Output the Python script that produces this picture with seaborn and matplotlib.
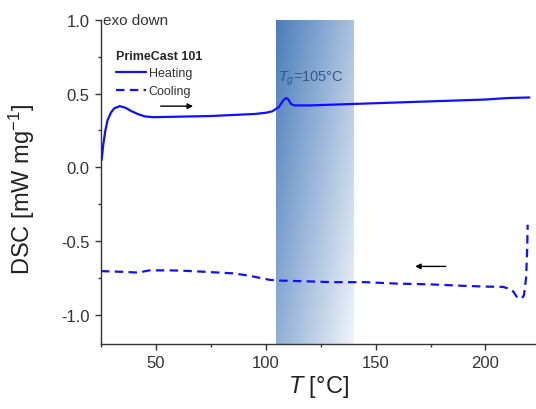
import numpy as np
import pandas as pd
import matplotlib
matplotlib.use("Agg")
import matplotlib.pyplot as plt
import seaborn as sns
from matplotlib.colors import LinearSegmentedColormap
from matplotlib.ticker import MultipleLocator

# DSC heating scan (temperature in degC, heat flow in mW/mg)
heat_T = [25.3, 26.0, 27.0, 28.0, 29.5, 31.0, 33.5, 36.0, 39.0, 42.0, 45.0, 49.0,
          55.0, 65.0, 75.0, 85.0, 95.0, 100.0, 103.0, 106.0, 108.0, 109.3, 110.3,
          111.5, 113.0, 120.0, 130.0, 140.0, 160.0, 180.0, 200.0, 210.0, 220.0]
heat_dsc = [0.05, 0.15, 0.25, 0.32, 0.37, 0.40, 0.415, 0.405, 0.38, 0.36, 0.345, 0.34,
            0.342, 0.345, 0.348, 0.355, 0.362, 0.37, 0.38, 0.41, 0.455, 0.47, 0.46,
            0.43, 0.42, 0.42, 0.425, 0.43, 0.44, 0.45, 0.46, 0.47, 0.474]

# DSC cooling scan
cool_T = [25.0, 35.0, 42.0, 47.0, 56.0, 62.0, 70.0, 85.0, 92.0, 97.0, 102.0, 108.0,
          120.0, 130.0, 145.0, 160.0, 175.0, 190.0, 200.0, 208.0, 212.0, 214.5,
          216.5, 217.5, 218.5, 219.0, 219.2]
cool_dsc = [-0.705, -0.71, -0.715, -0.70, -0.70, -0.702, -0.708, -0.72, -0.735, -0.75,
            -0.765, -0.77, -0.775, -0.78, -0.78, -0.79, -0.795, -0.805, -0.81, -0.812,
            -0.83, -0.885, -0.89, -0.87, -0.75, -0.55, -0.39]

runs = ["Heating", "Cooling"]
sample = "PrimeCast 101"
tg_span = (104.5, 140.0)
tg_value = 105

sns.set_style("ticks")
plt.rcParams["font.family"] = ["Liberation Sans", "DejaVu Sans"]
plt.rcParams["mathtext.fontset"] = "custom"
plt.rcParams["mathtext.rm"] = "Liberation Sans"
plt.rcParams["mathtext.it"] = "Liberation Sans:italic"
plt.rcParams["axes.unicode_minus"] = False

df = pd.concat([
    pd.DataFrame({"T": heat_T, "DSC": heat_dsc, "run": runs[0]}),
    pd.DataFrame({"T": cool_T, "DSC": cool_dsc, "run": runs[1]}),
], ignore_index=True)

fig = plt.figure(figsize=(5.36, 4.10), dpi=100)
ax = fig.add_axes([0.1884, 0.1585, 0.8116, 0.7903])

# glass-transition band with a diagonal blue gradient
cmap = LinearSegmentedColormap.from_list("band", ["#4a7dbb", "#f0f4fa"])
U, V = np.meshgrid(np.linspace(0, 1, 200), np.linspace(0, 1, 200))
ax.imshow(np.clip(0.58 * U + 0.42 * V, 0, 1), cmap=cmap, vmin=0, vmax=1,
          extent=[tg_span[0], tg_span[1], -1.2, 1.0], origin="upper",
          aspect="auto", zorder=0)

sns.lineplot(data=df, x="T", y="DSC", hue="run", style="run",
             hue_order=runs, style_order=runs,
             palette={"Heating": "#1010ff", "Cooling": "#1010ff"},
             dashes={"Heating": "", "Cooling": (3.8, 2.4)},
             sort=False, estimator=None, linewidth=1.6, legend=False, ax=ax, zorder=3)

ax.set_xlim(25, 223)
ax.set_ylim(-1.2, 1.0)
ax.xaxis.set_major_locator(MultipleLocator(50))
ax.xaxis.set_minor_locator(MultipleLocator(25))
ax.yaxis.set_major_locator(MultipleLocator(0.5))
ax.yaxis.set_minor_locator(MultipleLocator(0.25))
ax.tick_params(which="major", length=4.5, width=1.0, labelsize=12,
               colors="#333333", direction="out")
ax.tick_params(which="minor", length=2.5, width=1.0, colors="#333333", direction="out")
for side in ("top", "right"):
    ax.spines[side].set_visible(False)
for side in ("left", "bottom"):
    ax.spines[side].set_color("#333333")
    ax.spines[side].set_linewidth(1.0)

ax.set_xlabel(r"$T$ [°C]", fontsize=17, color="#222222", labelpad=2)
ax.set_ylabel(r"DSC [mW mg$^{-1}$]", fontsize=17, color="#222222")
ax.yaxis.set_label_coords(-0.146, 0.48)

ax.text(25.8, 1.0, "exo down", fontsize=11, color="#333333", va="center", ha="left")
ax.text(105.6, 0.61, rf"$T_g$={tg_value}°C", fontsize=10.5, color="#355888",
        va="center", ha="left", zorder=4)

# scan-direction arrows
ax.annotate("", xy=(68.2, 0.415), xytext=(50.9, 0.415),
            arrowprops=dict(arrowstyle="-|>", color="black", lw=1.0, mutation_scale=8))
ax.annotate("", xy=(166.7, -0.673), xytext=(183.2, -0.673),
            arrowprops=dict(arrowstyle="-|>", color="black", lw=1.0, mutation_scale=8))

lines = ax.get_lines()[:2]
leg = ax.legend(lines, runs, title=sample, loc="upper left",
                bbox_to_anchor=(0.015, 0.935), frameon=False, fontsize=9,
                title_fontsize=9, handlelength=2.4, handletextpad=0.2,
                labelspacing=0.45, alignment="left", borderpad=0.2)
leg.get_title().set_fontweight("bold")
for t in leg.get_texts():
    t.set_color("#333333")

fig.savefig("out.png", dpi=100)
